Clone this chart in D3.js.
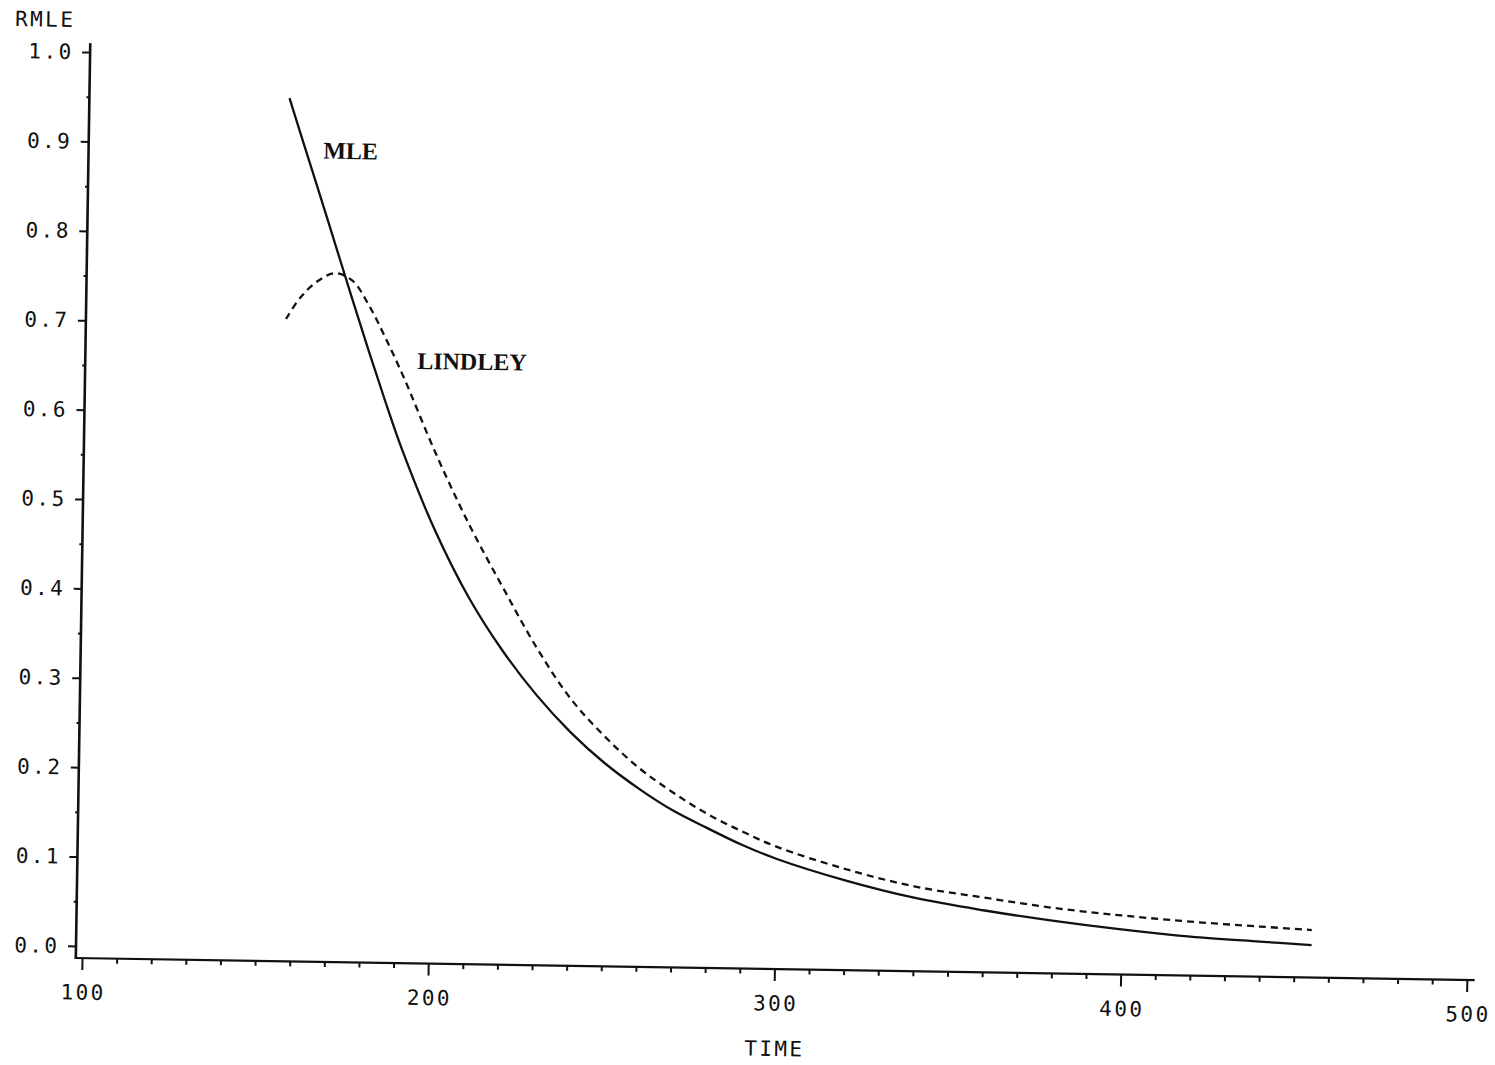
<!DOCTYPE html>
<html>
<head>
<meta charset="utf-8">
<script src="https://cdn.jsdelivr.net/npm/d3@7"></script>
<style>
  body { margin: 0; background: #fff; }
  svg { display: block; }
  .tick text { font-family: "DejaVu Sans Mono", monospace; font-size: 21px; letter-spacing: 2.4px; fill: #111; }
  .lbl { font-family: "DejaVu Sans Mono", monospace; font-size: 21px; letter-spacing: 2.4px; fill: #111; }
  .ann { font-family: "Liberation Serif", "Times New Roman", serif; font-size: 24px; font-weight: bold; fill: #111; }
</style>
</head>
<body>
<div id="chart"></div>
<script>
// values
var time    = [156, 160, 165, 170, 175, 180, 185, 190, 200, 210, 220, 230, 240, 250, 260,
               270, 280, 290, 300, 320, 340, 360, 380, 400, 420, 440, 455];
var mle     = [0.952, 0.905, 0.847, 0.788, 0.729, 0.671, 0.615, 0.562, 0.471, 0.397, 0.338,
               0.289, 0.248, 0.214, 0.186, 0.162, 0.143, 0.125, 0.110, 0.087, 0.0688,
               0.056, 0.0456, 0.037, 0.0301, 0.0258, 0.0229];
var lindley = [0.705, 0.729, 0.748, 0.757, 0.749, 0.721, 0.684, 0.644, 0.556, 0.477, 0.4075,
               0.341, 0.285, 0.2435, 0.209, 0.182, 0.1586, 0.140, 0.1235, 0.0997, 0.0815,
               0.0703, 0.060, 0.0527, 0.0469, 0.0427, 0.0397];

var xMajor = [100, 200, 300, 400, 500];
var yMajor = [0, 0.1, 0.2, 0.3, 0.4, 0.5, 0.6, 0.7, 0.8, 0.9, 1.0];

var width = 1495, height = 1065;

var svg = d3.select("#chart").append("svg")
    .attr("width", width)
    .attr("height", height);

// the scan is a little tilted, so the whole plot is turned slightly
var g = svg.append("g")
    .attr("transform", "translate(76,946) rotate(0.905)");

var x = d3.scaleLinear().domain([100, 500]).range([6.2, 1391.2]);
var y = d3.scaleLinear().domain([0, 1]).range([0, -894]);

// minor ticks
var xMinor = d3.range(110, 500, 10).filter(function(d) { return d % 100 != 0; });
var yMinor = d3.range(0.05, 1, 0.1);

// x axis
g.append("g").attr("transform", "translate(0,12)")
    .call(d3.axisBottom(x).tickValues(xMinor).tickSize(5).tickFormat(""));
var xAxisG = g.append("g").attr("transform", "translate(0,12)")
    .call(d3.axisBottom(x).tickValues(xMajor).tickSize(12).tickFormat(d3.format("d")));
xAxisG.selectAll("text").attr("y", 26.6).attr("dx", 1.2);
xAxisG.append("line")
    .attr("x1", -1).attr("x2", 1399)
    .attr("y1", 0).attr("y2", 0)
    .attr("stroke", "#111").attr("stroke-width", 2.2);

// y axis
g.append("g")
    .call(d3.axisLeft(y).tickValues(yMinor).tickSize(3).tickFormat(""));
var yAxisG = g.append("g")
    .call(d3.axisLeft(y).tickValues(yMajor).tickSize(8).tickFormat(d3.format(".1f")));
yAxisG.selectAll("text").attr("x", -16.5);
yAxisG.append("line")
    .attr("x1", 0).attr("x2", 0)
    .attr("y1", 13).attr("y2", -903)
    .attr("stroke", "#111").attr("stroke-width", 2.6);

g.selectAll(".domain").remove();
g.selectAll(".tick line").attr("stroke", "#111").attr("stroke-width", 2);

// axis titles
g.append("text").attr("class", "lbl")
    .attr("x", x(300) + 1.2).attr("y", 99)
    .attr("text-anchor", "middle")
    .text("TIME");
g.append("text").attr("class", "lbl")
    .attr("x", -75.5).attr("y", -919)
    .text("RMLE");

// curves
var line = d3.line()
    .x(function(d) { return x(d[0]); })
    .y(function(d) { return y(d[1]); })
    .curve(d3.curveCatmullRom.alpha(0.5));

g.append("path")
    .datum(d3.zip(time, mle))
    .attr("d", line)
    .attr("fill", "none")
    .attr("stroke", "#111")
    .attr("stroke-width", 2.3);

g.append("path")
    .datum(d3.zip(time, lindley))
    .attr("d", line)
    .attr("fill", "none")
    .attr("stroke", "#111")
    .attr("stroke-width", 2.3)
    .attr("stroke-dasharray", "7,5");

// curve labels
g.append("text").attr("class", "ann")
    .attr("x", x(166)).attr("y", y(0.885))
    .text("MLE");
g.append("text").attr("class", "ann")
    .attr("x", x(194.1)).attr("y", y(0.6515))
    .text("LINDLEY");
</script>
</body>
</html>
